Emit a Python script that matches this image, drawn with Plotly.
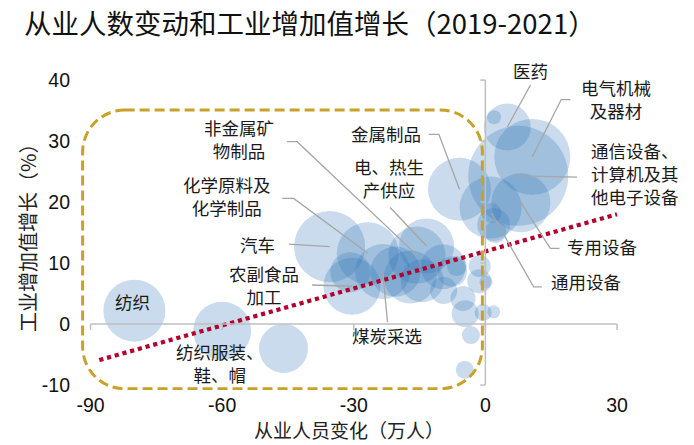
import plotly.graph_objects as go

# ---------------- data ----------------
title_text = "从业人数变动和工业增加值增长（2019-2021）"
x_title = "从业人员变化（万人）"
y_title = "工业增加值增长（%）"

industry = ["纺织", "纺织服装、鞋、帽", "", "汽车", "化学原料及化学制品", "非金属矿物制品",
            "电、热生产供应", "农副食品加工", "", "煤炭采选", "", "", "", "", "", "", "", "",
            "", "", "", "", "", "", "", "", "医药", "", "电气机械及器材",
            "通信设备、计算机及其他电子设备", "专用设备", "金属制品", "", "通用设备", "", ""]
emp_change = [-80, -60, -46, -35.5, -26.8, -15.6, -13.4, -30.4, -30.8, -23.4, -20.5, -17.1,
              -14.4, -9.6, -9.5, -7.6, -5.1, -6.5, -1.3, -1.4, 0.15, -4.6, -0.5, 1.9, -3.3,
              -4.7, 5.0, 2.0, 10.7, 7.5, 8.1, -5.9, 1.2, 1.4, 1.9, 2.3]
va_growth = [2.2, -1.1, -4.0, 12.7, 11.6, 11.3, 12.8, 6.2, 8.5, 8.6, 8.6, 7.7, 7.1, 9.4, 5.5,
             8.6, 4.2, 9.5, 9.5, 7.0, 6.9, 1.7, 1.9, 2.0, -1.8, -7.5, 32.3, 33.9, 27.4, 24.3,
             19.9, 22.1, 19.1, 18.2, 16.3, 15.1]
bubble_scale = [62, 58, 49, 71, 62, 57, 55, 57, 40, 55, 50, 53, 43, 45, 27, 30, 25, 20, 22, 24,
                13, 27, 17, 13, 18, 18, 47, 14, 76, 100, 59, 63, 62, 20, 33, 22]

x_ticks = [-90, -60, -30, 0, 30]
y_ticks = [-10, 0, 10, 20, 30, 40]

trend_x = [-88, 30]
trend_y = [-5.9, 18.0]

# ---------------- layout geometry ----------------
L, R, T, B = 80, 69, 77, 55
W, H = 694, 445
px_x = 4.387   # px per x unit
px_y = 6.1     # px per y unit
x0 = -92.4
xr = [x0, x0 + (W - L - R) / px_x]
y1 = 40.5
yr = [y1 - (H - T - B) / px_y, y1]
PW, PH = W - L - R, H - T - B


def paper_x(px):
    return (px - L) / PW


def paper_y(py):
    return (H - B - py) / PH


fig = go.Figure()

fig.add_trace(go.Scatter(
    x=emp_change, y=va_growth, mode="markers",
    marker=dict(size=bubble_scale, sizemode="diameter", sizeref=1,
                color="rgba(46,117,182,0.37)", line=dict(width=0)),
    cliponaxis=False, hoverinfo="skip", showlegend=False))

fig.add_trace(go.Scatter(
    x=trend_x, y=trend_y, mode="lines",
    line=dict(color="#B4002D", width=4.2, dash="4.2px,3.8px"),
    hoverinfo="skip", showlegend=False))

# leader lines (waypoints near labels, ending at bubble centres)
leaders = {
    "非金属矿物制品": [(-45.2, 29.9), (-42.9, 29.9)],
    "化学原料及化学制品": [(-46.3, 20.6), (-43.7, 20.6)],
    "汽车": [(-44.8, 13.1)],
    "农副食品加工": [(-39.5, 6.4)],
    "煤炭采选": [(-22.3, 0.3)],
    "金属制品": [(-12.9, 31.1), (-10.6, 31.1)],
    "电、热生产供应": [(-21.7, 19.1)],
    "医药": [(10.3, 39.2)],
    "电气机械及器材": [(19.4, 36.8), (17.3, 36.8)],
    "通信设备、计算机及其他电子设备": [(20.9, 24.1)],
    "专用设备": [(16.9, 12.4), (14.8, 12.4)],
    "通用设备": [(12.9, 6.1), (11.0, 6.1)],
}
for name, pts in leaders.items():
    i = industry.index(name)
    xs = [p[0] for p in pts] + [emp_change[i]]
    ys = [p[1] for p in pts] + [va_growth[i]]
    fig.add_trace(go.Scatter(x=xs, y=ys, mode="lines",
                             line=dict(color="#A6A6A6", width=1.3),
                             cliponaxis=False, hoverinfo="skip", showlegend=False))

cjk = "Noto Sans CJK SC"
lab_font = dict(family=cjk, size=17.5, color="#1a1a1a")
labels = [
    ("非金属矿<br>物制品", -56.1, 30.4, "center"),
    ("化学原料及<br>化学制品", -59.0, 21.0, "center"),
    ("汽车", -51.9, 13.1, "center"),
    ("农副食品<br>加工", -50.5, 6.4, "center"),
    ("纺织", -80.5, 3.7, "center"),
    ("纺织服装、<br>鞋、帽", -60.4, -6.4, "center"),
    ("煤炭采选", -22.4, -1.8, "center"),
    ("金属制品", -22.6, 31.3, "center"),
    ("电、热生<br>产供应", -21.9, 23.9, "center"),
    ("医药", 10.4, 41.5, "center"),
    ("电气机械<br>及器材", 29.8, 36.9, "center"),
    ("通信设备、<br>计算机及其<br>他电子设备", 23.7, 24.75, "left"),
    ("专用设备", 26.8, 12.7, "center"),
    ("通用设备", 23.0, 6.9, "center"),
]
ann = []
for txt, ax_, ay_, al in labels:
    # placed in paper space so labels beyond the axis range stay visible
    ann.append(dict(text=txt, x=(ax_ - xr[0]) / (xr[1] - xr[0]),
                    y=(ay_ - yr[0]) / (yr[1] - yr[0]), xref="paper", yref="paper",
                    showarrow=False, xanchor=al, yanchor="middle", align=al, font=lab_font))

ann.append(dict(text=title_text, xref="paper", yref="paper",
                x=paper_x(22), y=paper_y(22),
                xanchor="left", yanchor="middle", showarrow=False,
                font=dict(family=cjk, size=27.5, color="#111111")))
ann.append(dict(text=y_title, xref="paper", yref="paper", textangle=-90,
                x=paper_x(27), y=paper_y(233),
                xanchor="center", yanchor="middle", showarrow=False,
                font=dict(family=cjk, size=20, color="#222222")))
ann.append(dict(text=x_title, xref="paper", yref="paper",
                x=paper_x(349), y=paper_y(430),
                xanchor="center", yanchor="middle", showarrow=False,
                font=dict(family=cjk, size=19, color="#222222")))

# axes crossing at zero, with tick marks
ax_col = "#BFBFBF"
shapes = [
    dict(type="line", xref="x", yref="y", x0=x_ticks[0], x1=x_ticks[-1], y0=0, y1=0,
         line=dict(color=ax_col, width=1.5)),
    dict(type="line", xref="x", yref="y", x0=0, x1=0, y0=y_ticks[0], y1=y_ticks[-1],
         line=dict(color=ax_col, width=1.5)),
]
for t in x_ticks:
    shapes.append(dict(type="line", xref="x", yref="y", x0=t, x1=t, y0=0, y1=-6 / px_y,
                       line=dict(color=ax_col, width=1.5)))
for t in y_ticks:
    shapes.append(dict(type="line", xref="x", yref="y", x0=0, x1=-5 / px_x, y0=t, y1=t,
                       line=dict(color=ax_col, width=1.5)))

# gold dashed rounded box
bl, br, bt, bb = -91.8, -0.68, 35.08, -10.6
rx, ry = 42 / px_x, 42 / px_y
k = 0.5523
path = (f"M {bl+rx},{bt} L {br-rx},{bt} "
        f"C {br-rx+k*rx},{bt} {br},{bt-ry+k*ry} {br},{bt-ry} "
        f"L {br},{bb+ry} "
        f"C {br},{bb+ry-k*ry} {br-rx+k*rx},{bb} {br-rx},{bb} "
        f"L {bl+rx},{bb} "
        f"C {bl+rx-k*rx},{bb} {bl},{bb+ry-k*ry} {bl},{bb+ry} "
        f"L {bl},{bt-ry} "
        f"C {bl},{bt-ry+k*ry} {bl+rx-k*rx},{bt} {bl+rx},{bt} Z")
shapes.append(dict(type="path", xref="x", yref="y", path=path,
                   line=dict(color="#C9A128", width=3, dash="10px,5px")))

tick_font = dict(family="Liberation Sans, Arial", size=19.5, color="#111111")
fig.update_layout(
    width=W, height=H, margin=dict(l=L, r=R, t=T, b=B),
    paper_bgcolor="white", plot_bgcolor="white",
    xaxis=dict(range=xr, tickvals=x_ticks, ticktext=[str(v) for v in x_ticks],
               showgrid=False, zeroline=False, showline=False, ticks="",
               ticklabelstandoff=1, tickfont=tick_font, fixedrange=True),
    yaxis=dict(range=yr, tickvals=y_ticks, ticktext=[str(v) for v in y_ticks],
               showgrid=False, zeroline=False, showline=False, ticks="",
               ticklabelstandoff=9, tickfont=tick_font, fixedrange=True),
    annotations=ann, shapes=shapes, showlegend=False,
)

fig.write_html("out.html", config={"displayModeBar": False},
               post_script="document.body.style.margin='0';document.body.style.overflow='hidden';")
